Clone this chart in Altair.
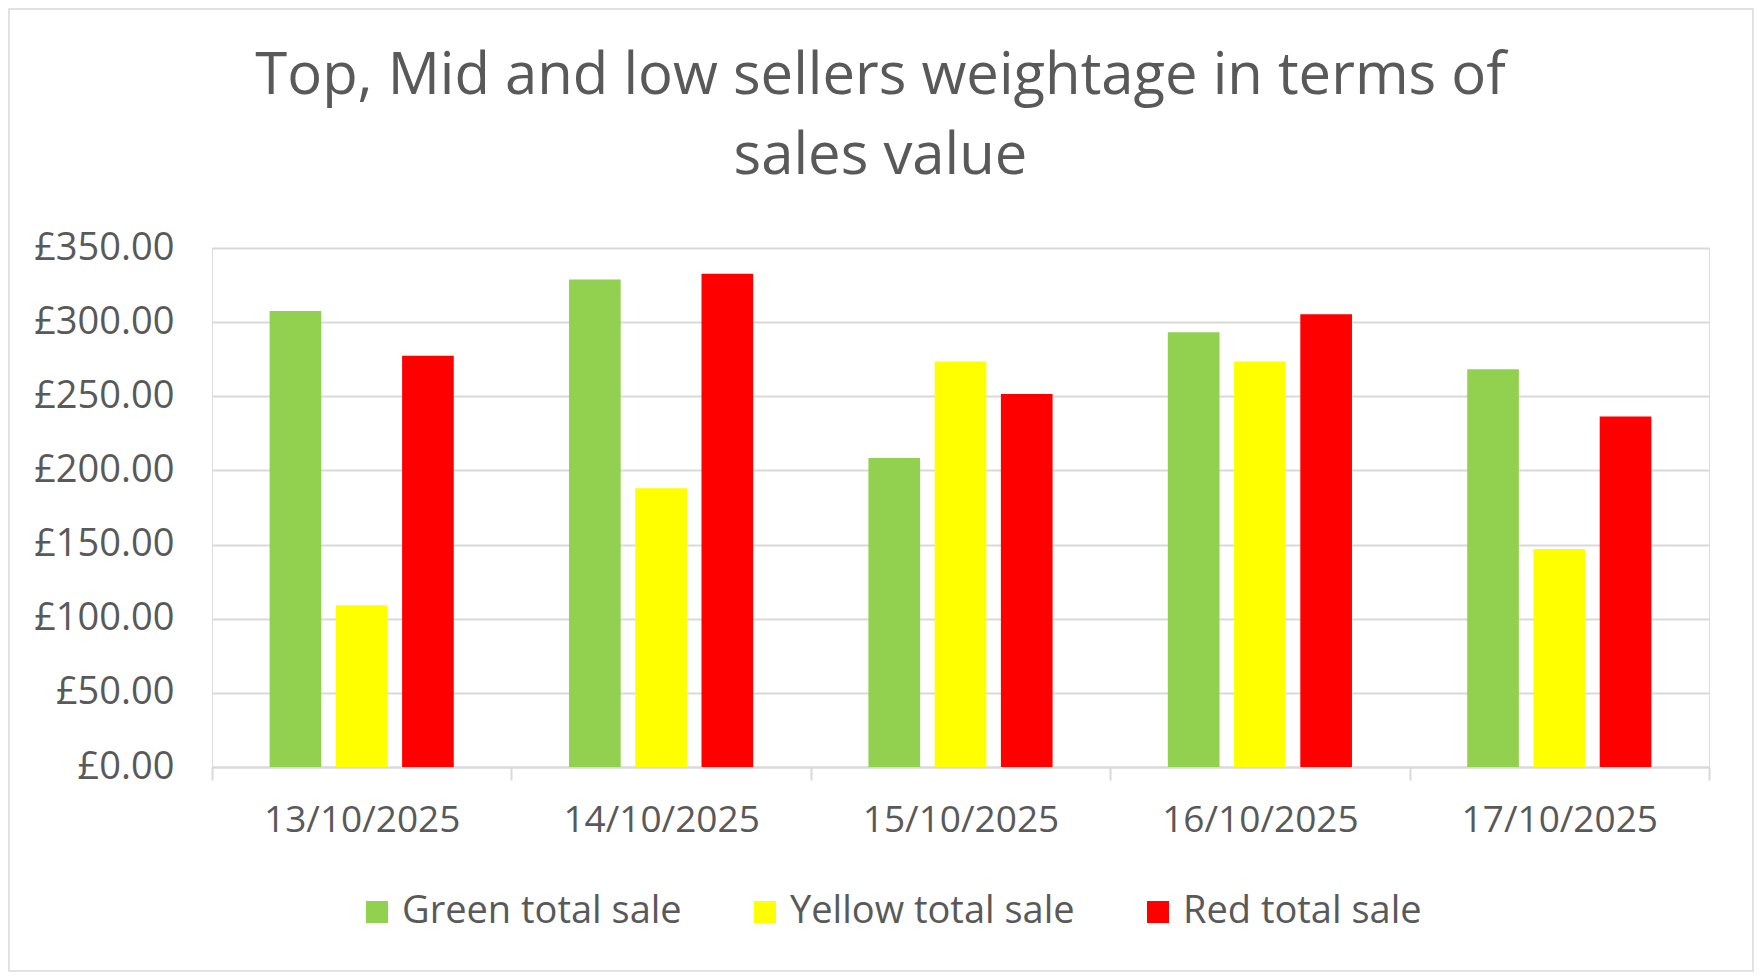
import altair as alt
import pandas as pd

dates = ["13/10/2025", "14/10/2025", "15/10/2025", "16/10/2025", "17/10/2025"]
series = ["Green total sale", "Yellow total sale", "Red total sale"]
green = [307.5, 328.8, 208.3, 293.2, 268.2]
yellow = [109.0, 187.9, 273.5, 273.5, 147.0]
red = [277.3, 332.6, 251.5, 305.3, 236.4]
colors = ["#92D050", "#FFFF00", "#FF0000"]
y_ticks = [0, 50, 100, 150, 200, 250, 300, 350]

FONT = "Open Sans"
TEXT = "#595959"
GRID = "#D9D9D9"

rows = []
for name, vals in zip(series, [green, yellow, red]):
    for d, v in zip(dates, vals):
        rows.append({"date": d, "series": name, "value": v})
df = pd.DataFrame(rows)

W, H = 1497, 519

bars = (
    alt.Chart(df)
    .mark_bar()
    .encode(
        x=alt.X(
            "date:N",
            sort=dates,
            title=None,
            scale=alt.Scale(paddingInner=0, paddingOuter=0),
            axis=alt.Axis(
                labelAngle=0,
                labelFont=FONT,
                labelFontSize=37,
                labelColor=TEXT,
                labelPadding=22,
                labelLimit=500,
                tickBand="extent",
                tickSize=13,
                tickColor=GRID,
                tickWidth=2,
                domainColor=GRID,
                domainWidth=2,
                grid=False,
            ),
        ),
        xOffset=alt.XOffset(
            "series:N", sort=series, scale=alt.Scale(paddingInner=0.22, paddingOuter=0.87)
        ),
        y=alt.Y(
            "value:Q",
            title=None,
            scale=alt.Scale(domain=[0, 350], nice=False),
            axis=alt.Axis(
                values=y_ticks,
                labelExpr="'£' + format(datum.value, ',.2f')",
                labelFont=FONT,
                labelFontSize=38,
                labelColor=TEXT,
                labelPadding=38,
                labelLimit=500,
                ticks=False,
                domain=False,
                gridColor=GRID,
                gridWidth=2,
            ),
        ),
        color=alt.Color(
            "series:N",
            sort=series,
            scale=alt.Scale(domain=series, range=colors),
            legend=alt.Legend(
                title=None,
                orient="none",
                direction="horizontal",
                legendX=146,
                legendY=645,
                symbolType="square",
                symbolSize=484,
                symbolStrokeWidth=0,
                labelFont=FONT,
                labelFontSize=38,
                labelColor=TEXT,
                labelOffset=6,
                labelLimit=500,
                columnPadding=64,
            ),
        ),
    )
)

frame = (
    alt.Chart(pd.DataFrame({"k": [0]}))
    .mark_rect(fill="white", fillOpacity=0, stroke=GRID, strokeWidth=1.5)
    .encode(x=alt.value(-203), x2=alt.value(1541), y=alt.value(-239), y2=alt.value(723))
)

chart = (
    alt.layer(frame, bars)
    .properties(
        width=W,
        height=H,
        padding=0,
        title=alt.TitleParams(
            text=["Top, Mid and low sellers weightage in terms of", "sales value"],
            font=FONT,
            fontSize=58,
            fontWeight="normal",
            color=TEXT,
            anchor="middle",
            lineHeight=80,
            dx=-80,
            offset=-178,
        ),
    )
    .configure_view(strokeWidth=0)
    .configure(background="white")
)

chart.save("out.html", embed_options={"renderer": "svg", "actions": False})
